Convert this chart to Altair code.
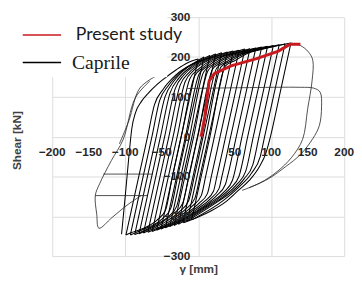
import altair as alt
import pandas as pd

# ---------------- data ----------------
# Caprile hysteresis: loading branches (negative peak -> positive peak)
load_x = [
    [-105, -100, -95, -91, -86, -78, -68, -57, -45, -30, -15, 0],
    [-99, -81.4, -69.4, -60, -48, -30, -4, 8],
    [-93, -75.4, -63.4, -53, -41, -23, 3, 16],
    [-87, -69.5, -57.5, -45.5, -33.5, -15.5, 10.5, 24],
    [-81, -63.7, -51.7, -38.5, -26.5, -8.5, 17.5, 32],
    [-75, -58, -46, -31.6, -19.6, -1.6, 24.4, 40],
    [-69, -52.2, -40.2, -24.6, -12.6, 5.4, 31.4, 48],
    [-63, -46.4, -34.4, -17.9, -5.9, 12.1, 38.1, 56],
    [-57, -40.8, -28.8, -11.3, 0.7, 18.7, 44.7, 64],
    [-51, -35.2, -23.2, -5, 7, 25, 51, 71],
    [-45, -29.5, -17.5, 1.5, 13.5, 31.5, 57.5, 79],
    [-39, -23.9, -11.9, 7.7, 19.7, 37.7, 63.7, 87],
    [-33, -18.2, -6.2, 13.8, 25.8, 43.8, 69.8, 95],
    [-27, -12.6, -0.6, 19.8, 31.8, 49.8, 75.8, 103],
    [-21, -7.1, 4.9, 25.7, 37.7, 55.7, 81.7, 111],
    [-15, -1.6, 10.4, 31.5, 43.5, 61.5, 87.5, 119],
    [-9, 4.1, 16.1, 37.3, 49.3, 67.3, 93.3, 127],
]
load_y = [
    [-245, -150, -50, 20, 60, 88, 110, 130, 148, 168, 185, 195],
    [-247, -100, 0, 80, 119, 156, 187, 200],
    [-247, -100, 0, 90, 128, 164, 192, 204],
    [-246, -100, 0, 100, 139, 173, 196, 208],
    [-244, -100, 0, 110, 147, 177, 200, 211],
    [-242, -100, 0, 120, 155, 182, 203, 213],
    [-240, -100, 0, 130, 161, 186, 206, 215],
    [-238, -100, 0, 138, 167, 190, 208, 217],
    [-235, -100, 0, 146, 170, 193, 209, 220],
    [-232, -100, 0, 152, 174, 196, 211, 221],
    [-229, -100, 0, 158, 178, 199, 212, 223],
    [-226, -100, 0, 163, 181, 200, 215, 225],
    [-223, -100, 0, 167, 184, 202, 216, 227],
    [-220, -100, 0, 170, 186, 203, 217, 229],
    [-216, -100, 0, 173, 187, 205, 219, 231],
    [-212, -100, 0, 176, 189, 207, 220, 233],
    [-209, -100, 0, 178, 190, 209, 222, 235],
]
# unloading branches (positive peak -> next negative peak)
unload_x = [
    [0, -11.4, -23.4, -35.4, -44.8, -56.8, -74.8, -92.8, -99],
    [8, -4, -16, -28, -37.6, -49.6, -67.6, -85.6, -93],
    [16, 3.5, -8.5, -20.5, -29.5, -41.5, -59.5, -77.5, -87],
    [24, 11, -1, -13, -21.4, -33.4, -51.4, -69.4, -81],
    [32, 18.7, 6.7, -5.3, -13.1, -25.1, -43.1, -61.1, -75],
    [40, 26.4, 14.4, 2.4, -4.6, -16.6, -34.6, -52.6, -69],
    [48, 34.2, 22.2, 10.2, 4.2, -7.8, -25.8, -43.8, -63],
    [56, 42, 30, 18, 12.6, 0.6, -17.4, -35.4, -57],
    [64, 49.6, 37.6, 25.6, 20.9, 8.9, -9.1, -27.1, -51],
    [71, 56.5, 44.5, 32.5, 28.6, 16.6, -1.4, -19.4, -45],
    [79, 64.2, 52.2, 40.2, 37.2, 25.2, 7.2, -10.8, -39],
    [87, 72, 60, 46.8, 34.8, 16.8, -1.2, -33],
    [95, 79.8, 67.8, 55.8, 43.8, 25.8, 7.8, -27],
    [103, 87.5, 75.5, 64.9, 52.9, 34.9, 16.9, -21],
    [111, 95.3, 83.3, 74.9, 62.9, 44.9, 26.9, -15],
    [119, 103, 91, 85, 73, 55, 36, -9],
    [127, 111, 99, 93, 84, 70, 55, 38, 18, 0, -20],
]
unload_y = [
    [195, 100, 0, -100, -185, -210, -230, -242, -247],
    [200, 100, 0, -100, -180, -207, -227, -241, -247],
    [204, 100, 0, -100, -175, -202, -222, -239, -246],
    [208, 100, 0, -100, -168, -193, -217, -234, -244],
    [211, 100, 0, -100, -161, -187, -212, -230, -242],
    [213, 100, 0, -100, -155, -181, -207, -227, -240],
    [215, 100, 0, -100, -148, -174, -201, -222, -238],
    [217, 100, 0, -100, -143, -168, -195, -216, -235],
    [220, 100, 0, -100, -137, -162, -188, -210, -232],
    [221, 100, 0, -100, -130, -156, -182, -205, -229],
    [223, 100, 0, -100, -120, -148, -175, -197, -226],
    [225, 100, 0, -110, -140, -166, -188, -223],
    [227, 100, 0, -100, -130, -158, -180, -220],
    [229, 100, 0, -88, -120, -150, -172, -216],
    [231, 100, 0, -70, -106, -140, -163, -212],
    [233, 100, 0, -50, -92, -128, -158, -209],
    [235, 100, 0, -40, -75, -110, -135, -163, -186, -202, -216],
]
# large outer excursions of the Caprile test
outer_x = [
    [127, 140, 151, 157, 156, 150, 143, 128, 108, 85, 60],
    [-15, 60, 140, 158, 167, 169, 166, 157, 140, 120, 96, 70],
    [-66, -86, -103, -119, -135, -141, -139, -136, -118, -96, -78],
    [-141, -70],
    [-130, -62],
    [-58, -80, -95, -108],
]
outer_y = [
    [235, 229, 213, 192, 140, 70, -7, -52, -88, -116, -135],
    [121, 123, 124, 122, 112, 75, 28, -5, -45, -75, -106, -128],
    [140, 98, -8, -60, -118, -148, -195, -230, -203, -170, -148],
    [-148, -148],
    [-94, -94],
    [152, 122, 40, -18],
]
# Present study
present_x = [4, 9, 15, 22, 45, 80, 110, 122, 126, 140]
present_y = [0, 50, 140, 158, 178, 196, 215, 228, 232, 232]

x_grid = [-200, -150, -100, -50, 0, 50, 100, 150, 200]
x_labels = [-200, -150, -100, -50, 50, 100, 150, 200]
y_grid = [300, 200, 100, 0, -100, -200, -300]
legend_names = ["Present study", "Caprile"]
legend_colors = ["#c8191e", "#000000"]

# ---------------- tables ----------------
rows = []
for i, (xs, ys) in enumerate(zip(load_x, load_y)):
    for x, y in zip(xs, ys):
        rows.append({"branch": f"L{i}", "x": x, "y": y})
for i, (xs, ys) in enumerate(zip(unload_x, unload_y)):
    for x, y in zip(xs, ys):
        rows.append({"branch": f"U{i}", "x": x, "y": y})
branches = pd.DataFrame(rows)

orows = []
for i, (xs, ys) in enumerate(zip(outer_x, outer_y)):
    for j, (x, y) in enumerate(zip(xs, ys)):
        orows.append({"branch": f"O{i}", "i": j, "x": x, "y": y})
outer = pd.DataFrame(orows)

present = pd.DataFrame({"x": present_x, "y": present_y})
xlab = pd.DataFrame({"x": x_labels, "y": [0] * len(x_labels)})
ylab = pd.DataFrame({"x": [0] * len(y_grid), "y": y_grid})

FONT = "Liberation Sans"
xs_scale = alt.Scale(domain=[-200, 200], nice=False, zero=False)
ys_scale = alt.Scale(domain=[-300, 300], nice=False, zero=False)

X = alt.X("x:Q", scale=xs_scale,
          axis=alt.Axis(values=x_grid, grid=True, labels=False, ticks=False, domain=False,
                        title="γ [mm]", titleFont=FONT, titleFontSize=12, titleFontWeight="bold",
                        titleColor="#404040", titleY=8, titleBaseline="top"))
Y = alt.Y("y:Q", scale=ys_scale,
          axis=alt.Axis(values=y_grid, grid=True, labels=False, ticks=False, domain=False,
                        title="Shear [kN]", titleFont=FONT, titleFontSize=12, titleFontWeight="bold",
                        titleColor="#404040", titleX=-36, titleY=125, titleAngle=270,
                        titleBaseline="middle", titleAlign="center"))

main = alt.Chart(branches).mark_line(interpolate="monotone", color="black", strokeWidth=1.05).encode(
    x=X, y=Y, detail="branch:N")

outl = alt.Chart(outer).mark_line(interpolate="catmull-rom", color="#222222", strokeWidth=0.8).encode(
    x=alt.X("x:Q", scale=xs_scale), y=alt.Y("y:Q", scale=ys_scale),
    detail="branch:N", order="i:Q")

red = alt.Chart(present).mark_line(color=legend_colors[0], strokeWidth=3).encode(
    x=alt.X("x:Q", scale=xs_scale), y=alt.Y("y:Q", scale=ys_scale), order=alt.Order("x:Q"))

# white legend box
box = alt.Chart(pd.DataFrame({"k": [0]})).mark_rect(color="white").encode(
    x=alt.value(-43), x2=alt.value(117), y=alt.value(-7), y2=alt.value(61))

xt = alt.Chart(xlab).mark_text(font=FONT, fontSize=12, fontWeight="bold", color="#262626",
                               dy=16, align="center", baseline="middle").encode(
    x=alt.X("x:Q", scale=xs_scale), y=alt.Y("y:Q", scale=ys_scale), text="x:Q")
yt = alt.Chart(ylab).mark_text(font=FONT, fontSize=12, fontWeight="bold", color="#262626",
                               dx=-8, align="right", baseline="middle").encode(
    x=alt.X("x:Q", scale=xs_scale), y=alt.Y("y:Q", scale=ys_scale), text="y:Q")

leg = pd.DataFrame({"name": legend_names, "color": legend_colors})
leg_red = alt.Chart(leg[leg.name == "Present study"]).mark_rule(strokeWidth=1.5, color=legend_colors[0]).encode(
    x=alt.value(-30), x2=alt.value(9), y=alt.value(18))
leg_blk = alt.Chart(leg[leg.name == "Caprile"]).mark_rule(strokeWidth=1.5, color=legend_colors[1]).encode(
    x=alt.value(-30), x2=alt.value(9), y=alt.value(46))
leg_t1 = alt.Chart(leg[leg.name == "Present study"]).mark_text(
    font="Lato", fontSize=18, color="#1a1a1a", align="left", baseline="alphabetic").encode(
    x=alt.value(24), y=alt.value(23), text="name:N")
leg_t2 = alt.Chart(leg[leg.name == "Caprile"]).mark_text(
    font="Liberation Serif", fontSize=20, color="#1a1a1a", align="left", baseline="alphabetic").encode(
    x=alt.value(20), y=alt.value(53), text="name:N")

chart = alt.layer(main, outl, red, box, xt, yt, leg_red, leg_blk, leg_t1, leg_t2).properties(
    width=297, height=243,
    autosize=alt.AutoSizeParams(type="none"),
    padding={"left": 45, "top": 7, "right": 10, "bottom": 27},
).configure_view(stroke=None).configure_axis(gridColor="#dcdcdc", gridWidth=1)

chart.save("out.html", embed_options={"renderer": "svg", "actions": False})
